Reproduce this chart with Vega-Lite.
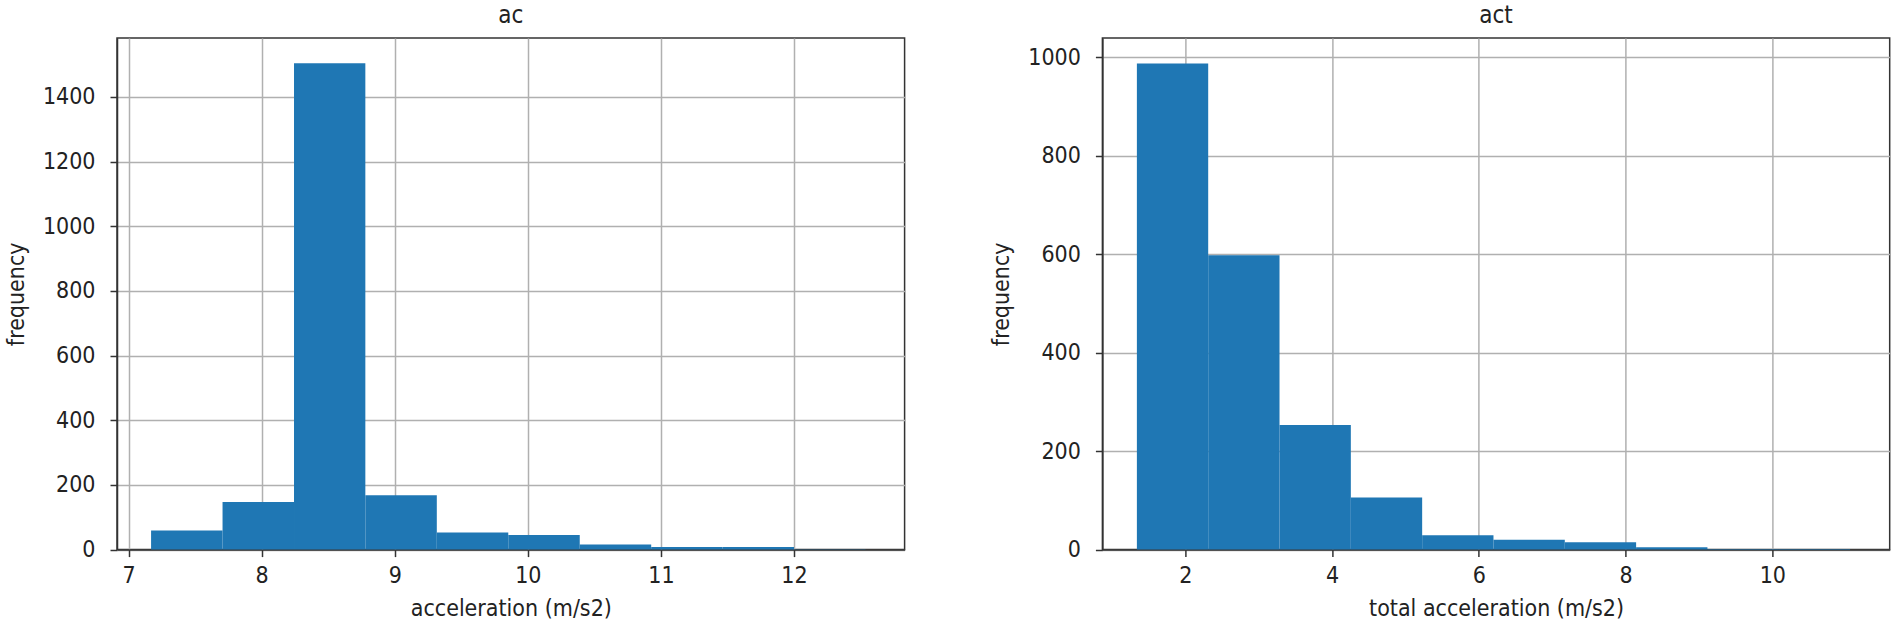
{
  "$schema": "https://vega.github.io/schema/vega-lite/v6.json",
  "background": "white",
  "padding": {"left": 4, "top": 3, "right": 0, "bottom": 0},
  "datasets": {
    "ac": [
      {"bin_start": 7.169, "bin_end": 7.706, "frequency": 59},
      {"bin_start": 7.706, "bin_end": 8.243, "frequency": 147},
      {"bin_start": 8.243, "bin_end": 8.779, "frequency": 1504},
      {"bin_start": 8.779, "bin_end": 9.316, "frequency": 168},
      {"bin_start": 9.316, "bin_end": 9.853, "frequency": 53},
      {"bin_start": 9.853, "bin_end": 10.39, "frequency": 45},
      {"bin_start": 10.39, "bin_end": 10.927, "frequency": 16},
      {"bin_start": 10.927, "bin_end": 11.463, "frequency": 8},
      {"bin_start": 11.463, "bin_end": 12.0, "frequency": 8},
      {"bin_start": 12.0, "bin_end": 12.537, "frequency": 1}
    ],
    "act": [
      {"bin_start": 1.34, "bin_end": 2.312, "frequency": 987},
      {"bin_start": 2.312, "bin_end": 3.284, "frequency": 598},
      {"bin_start": 3.284, "bin_end": 4.256, "frequency": 253},
      {"bin_start": 4.256, "bin_end": 5.228, "frequency": 106},
      {"bin_start": 5.228, "bin_end": 6.2, "frequency": 29},
      {"bin_start": 6.2, "bin_end": 7.172, "frequency": 20},
      {"bin_start": 7.172, "bin_end": 8.144, "frequency": 15},
      {"bin_start": 8.144, "bin_end": 9.116, "frequency": 5},
      {"bin_start": 9.116, "bin_end": 10.088, "frequency": 1},
      {"bin_start": 10.088, "bin_end": 11.06, "frequency": 1}
    ]
  },
  "spacing": 197.4,
  "bounds": "flush",
  "hconcat": [
    {
      "width": 787.6,
      "height": 511.6,
      "title": {"text": "ac"},
      "data": {"name": "ac"},
      "mark": {"type": "rect", "color": "#1f77b4"},
      "encoding": {
        "x": {"field": "bin_start", "type": "quantitative",
              "scale": {"domain": [6.913, 12.831], "nice": false, "zero": false},
              "axis": {"values": [7, 8, 9, 10, 11, 12], "format": "d", "title": "acceleration (m/s2)"}},
        "x2": {"field": "bin_end"},
        "y": {"field": "frequency", "type": "quantitative",
              "scale": {"domain": [0, 1582], "nice": false},
              "axis": {"values": [0, 200, 400, 600, 800, 1000, 1200, 1400], "format": "d", "title": "frequency"}},
        "y2": {"datum": 0}
      }
    },
    {
      "width": 787.3,
      "height": 511.6,
      "title": {"text": "act"},
      "data": {"name": "act"},
      "mark": {"type": "rect", "color": "#1f77b4"},
      "encoding": {
        "x": {"field": "bin_start", "type": "quantitative",
              "scale": {"domain": [0.87, 11.6], "nice": false, "zero": false},
              "axis": {"values": [2, 4, 6, 8, 10], "format": "d", "title": "total acceleration (m/s2)"}},
        "x2": {"field": "bin_end"},
        "y": {"field": "frequency", "type": "quantitative",
              "scale": {"domain": [0, 1039], "nice": false},
              "axis": {"values": [0, 200, 400, 600, 800, 1000], "format": "d", "title": "frequency"}},
        "y2": {"datum": 0}
      }
    }
  ],
  "config": {
    "view": {"stroke": "#333333", "strokeWidth": 1.5},
    "axis": {
      "grid": true, "gridColor": "#b0b0b0", "gridWidth": 1.5,
      "domainColor": "#333333", "domainWidth": 1.5,
      "tickColor": "#333333", "tickWidth": 1.5, "tickSize": 7,
      "labelFont": "DejaVu Sans Condensed, DejaVu Sans", "labelFontSize": 23, "labelColor": "#222222",
      "titleFont": "DejaVu Sans Condensed, DejaVu Sans", "titleFontSize": 23, "titleFontWeight": "normal", "titleColor": "#222222",
      "zindex": 1
    },
    "axisX": {"labelPadding": 8, "titlePadding": 10, "labelAngle": 0},
    "axisY": {"labelPadding": 15, "titlePadding": 14},
    "title": {"font": "DejaVu Sans Condensed, DejaVu Sans", "fontSize": 24, "fontWeight": "normal", "color": "#222222", "offset": 10}
  }
}
